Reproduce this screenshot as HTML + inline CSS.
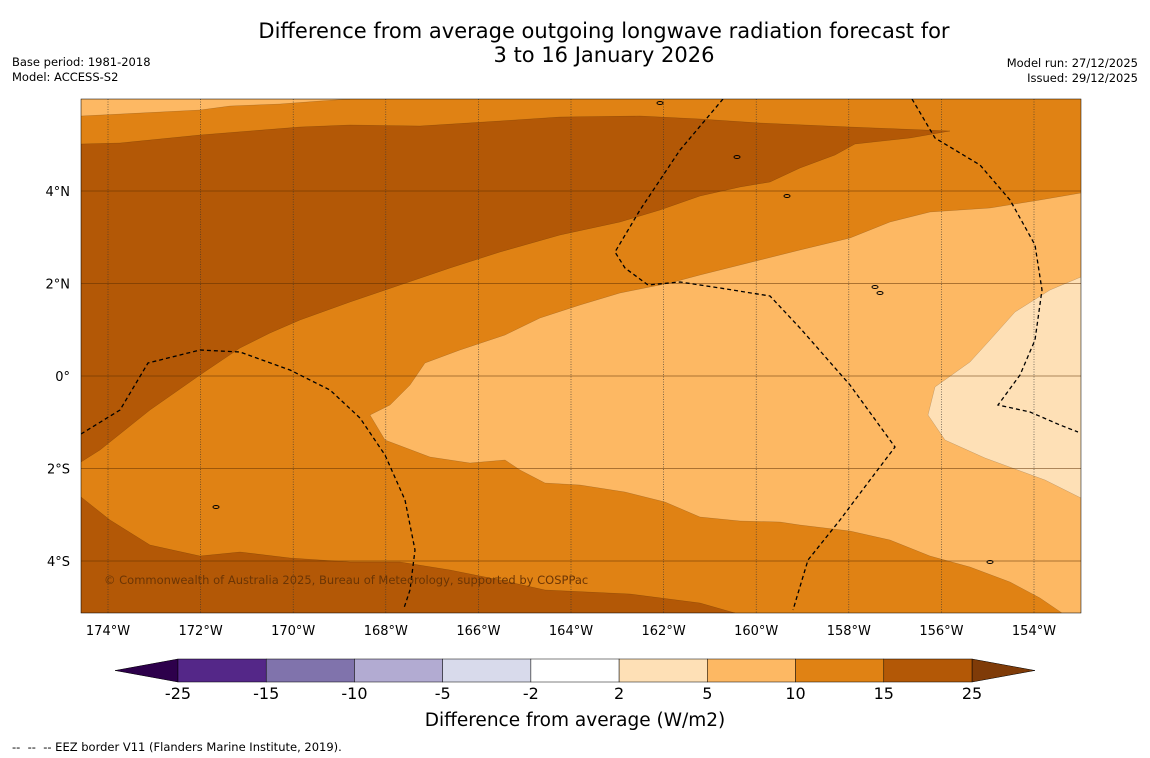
<!DOCTYPE html>
<html><head><meta charset="utf-8"><style>
body{margin:0;background:#fff;font-family:"DejaVu Sans","Liberation Sans",sans-serif;}
svg text{font-family:"DejaVu Sans","Liberation Sans",sans-serif;}
.t{position:absolute;font-size:11.5px;color:#000;}
</style></head><body>
<div style="position:relative;width:1150px;height:758px;overflow:hidden">
<div style="position:absolute;left:0;width:1208px;top:19px;text-align:center;font-size:21px;line-height:24px">Difference from average outgoing longwave radiation forecast for<br>3 to 16 January 2026</div>
<div class="t" style="left:12px;top:55px">Base period: 1981-2018</div>
<div class="t" style="left:12px;top:70px">Model: ACCESS-S2</div>
<div class="t" style="right:12px;top:56px;text-align:right">Model run: 27/12/2025</div>
<div class="t" style="right:12px;top:71px;text-align:right">Issued: 29/12/2025</div>
<svg id="s" width="1150" height="758" style="position:absolute;left:0;top:0"></svg>
<div class="t" style="left:12px;top:740px">-- &nbsp;-- &nbsp;-- EEZ border V11 (Flanders Marine Institute, 2019).</div>
</div>
<script>
const lonTicks=[174,172,170,168,166,164,162,160,158,156,154];
const latTicks=[4,2,0,-2,-4];
const cbBounds=["-25","-15","-10","-5","-2","2","5","10","15","25"];
const cbColors=["#542788","#8073ac","#b2abd2","#d8daeb","#ffffff","#fee0b6","#fdb863","#e08214","#b35806"];
const ns="http://www.w3.org/2000/svg",s=document.getElementById('s');
function mk(t,a,p){const e=document.createElementNS(ns,t);for(const k in a)e.setAttribute(k,a[k]);(p||s).appendChild(e);return e;}
const X0=81,Y0=99,W=1000,H=514;
const lx=l=>108+(174-l)*46.3, ly=l=>376-l*46.25;
const cpEl=mk('clipPath',{id:'c'});
mk('rect',{x:X0,y:Y0,width:W,height:H},cpEl);
const g=mk('g',{'clip-path':'url(#c)'});


mk('rect',{x:X0,y:Y0,width:W,height:H,fill:'#e08214'},g);
const P=(pts,fill,name)=>{const e=mk('polygon',{points:pts,fill:fill,stroke:'#000','stroke-width':0.3,'stroke-opacity':0.4},g);

};
P("81,144 120,143 200,135 300,127 350,125 420,126 500,121 560,117 640,116 700,119 760,123 850,127 950,131 910,138 855,144 835,155 800,168 770,182 740,187 700,196 660,210 620,222 560,235 500,252 450,268 400,285 350,302 300,320 270,333 240,348 200,375 150,410 100,450 81,462",'#b35806','contour-15-25-north');
P("81,497 110,520 150,545 200,556 240,552 290,558 350,562 400,562 450,570 500,580 545,590 630,594 700,603 735,613 81,613",'#b35806','contour-15-25-south');
P("81,99 81,116 200,110 230,106 280,104 320,101 350,99",'#fdb863','contour-5-10-corner');
P("1081,193 1040,200 990,208 930,212 890,222 850,238 800,250 760,260 700,275 670,283 620,293 580,305 540,318 505,335 460,350 425,363 410,385 390,405 370,415 385,440 430,457 470,463 505,460 520,470 545,483 580,485 625,492 665,502 700,517 740,521 780,522 800,525 850,531 890,540 930,556 970,567 1010,582 1040,598 1062,613 1081,613",'#fdb863','contour-5-10');
P("1081,277 1050,290 1015,312 990,340 970,362 935,387 928,415 945,440 985,458 1045,480 1081,498",'#fee0b6','contour-2-5');
lonTicks.forEach(l=>{const x=lx(l);const e=mk('line',{x1:x,x2:x,y1:Y0,y2:Y0+H,stroke:'#333','stroke-width':0.6,'stroke-dasharray':'1,1.5'},g);


 const t=mk('text',{x:x,y:635,'text-anchor':'middle','font-size':13});t.textContent=l+'°W';

});
latTicks.forEach(l=>{const y=ly(l);const e=mk('line',{x1:X0,x2:X0+W,y1:y,y2:y,stroke:'#5a2c00','stroke-width':0.5},g);


 const t=mk('text',{x:70,y:y+5,'text-anchor':'end','font-size':13});t.textContent=l==0?'0°':Math.abs(l)+'°'+(l>0?'N':'S');

});
const D=(pts,name)=>{const e=mk('polyline',{points:pts,fill:'none',stroke:'#000','stroke-width':1.3,'stroke-dasharray':'4,3'},g);

};
D("723,99 680,150 640,210 615,252 625,268 648,285 680,282 720,288 770,296 800,328 850,385 895,447 870,480 840,520 808,560 793,610",'eez-border-a');
D("912,99 935,138 980,165 1010,200 1035,245 1042,290 1035,340 1020,375 998,405 1030,412 1060,425 1078,432",'eez-border-b');
D("81,434 120,410 148,363 200,350 240,352 290,370 330,390 360,418 385,455 405,500 415,550 410,590 404,608",'eez-border-c');
[[787,196],[875,287],[880,293],[216,507],[990,562],[737,157],[660,103]].forEach(p=>{const e=mk('ellipse',{cx:p[0],cy:p[1],rx:3,ry:1.5,fill:'none',stroke:'#000','stroke-width':1},g);

});
const ct=mk('text',{x:104,y:584,'font-size':11.5,fill:'#6b3505'},g);ct.textContent='© Commonwealth of Australia 2025, Bureau of Meteorology, supported by COSPPac';


mk('rect',{x:X0,y:Y0,width:W,height:H,fill:'none',stroke:'#000','stroke-width':0.5});
const cbx=178,cbw=(972-178)/cbColors.length,cy=659,ch=23;
let e=mk('polygon',{points:`${cbx},${cy} ${cbx},${cy+ch} 115,${cy+ch/2}`,fill:'#2d004b',stroke:'#000','stroke-width':0.5});


e=mk('polygon',{points:`972,${cy} 972,${cy+ch} 1035,${cy+ch/2}`,fill:'#7f3b08',stroke:'#000','stroke-width':0.5});


cbColors.forEach((c,i)=>{const r=mk('rect',{x:cbx+i*cbw,y:cy,width:cbw,height:ch,fill:c,stroke:'#000','stroke-width':0.5});

});
cbBounds.forEach((b,i)=>{const t=mk('text',{x:cbx+i*cbw,y:699,'text-anchor':'middle','font-size':16});t.textContent=b;

});
const ttl=mk('text',{x:575,y:726,'text-anchor':'middle','font-size':18.5});ttl.textContent='Difference from average (W/m2)';


</script>
</body></html>
